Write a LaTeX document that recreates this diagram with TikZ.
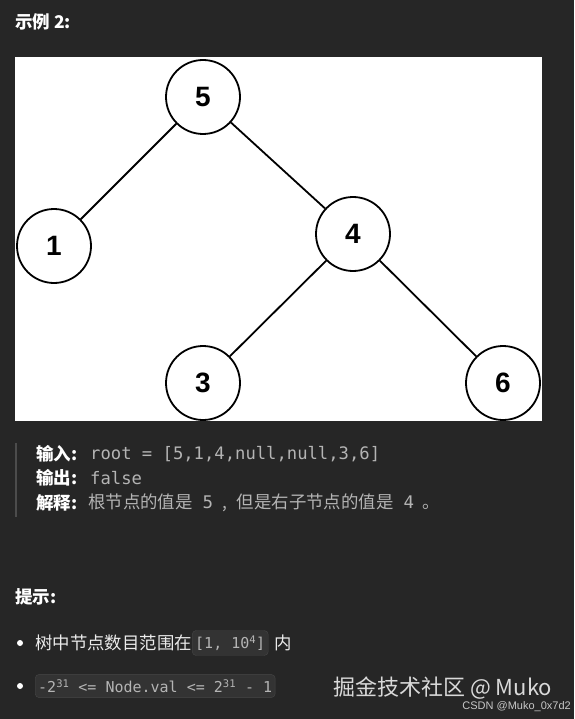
\documentclass[tikz,border=0pt]{standalone}
\usepackage{fontspec}
\setmainfont{Noto Sans CJK SC}
\setmonofont{DejaVu Sans Mono}
\newfontfamily\numfont{Liberation Sans}
\definecolor{pagebg}{HTML}{262626}
\definecolor{dimtext}{HTML}{B4B4B4}
\definecolor{codebg}{HTML}{333333}
\definecolor{codeline}{HTML}{464646}
\definecolor{barline}{HTML}{4C4C4C}

\begin{document}
\begin{tikzpicture}[x=1pt,y=-1pt,nd/.style={circle,draw=black,line width=1.8pt,fill=white,minimum size=74pt,inner sep=0pt,font=\numfont\bfseries\fontsize{28}{28}\selectfont},e/.style={draw=black,line width=1.8pt},hd/.style={anchor=west,inner sep=0pt,text=white,font=\bfseries\fontsize{17.5}{20}\selectfont},txt/.style={anchor=west,inner sep=0pt,font=\fontsize{17.4}{20}\selectfont},code/.style={anchor=west,inner sep=0pt,text=dimtext,font=\ttfamily\fontsize{17.2}{20}\selectfont},cbox/.style={anchor=west,fill=codebg,draw=codeline,rounded corners=4pt,inner xsep=3pt,inner ysep=5pt,text=dimtext,font=\ttfamily\fontsize{15}{18}\selectfont}]
\useasboundingbox[fill=pagebg] (0,0) rectangle (574,719);
\node[hd] (title) at (15,22) {示例 2:};
\fill[white] (15,57) rectangle (542,421);
% tree
\node[nd] (n5) at (203,97) {5};
\node[nd] (n1) at (54,246) {1};
\node[nd] (n4) at (353,234) {4};
\node[nd] (n3) at (203,383) {3};
\node[nd] (n6) at (503,383) {6};
\draw[e] (n5)--(n1); \draw[e] (n5)--(n4);
\draw[e] (n4)--(n3); \draw[e] (n4)--(n6);
% example block
\draw[barline,line width=2pt] (16,443)--(16,517);
\node[hd] (inlbl) at (36,454) {输入:};
\node[code] (incode) at (90,454) {root = [5,1,4,null,null,3,6]};
\node[hd] (outlbl) at (36,478) {输出:};
\node[code] (outcode) at (90,478) {false};
\node[hd] (exlbl) at (36,503) {解释:};
\node[txt,text=dimtext] (extxt) at (88,503) {根节点的值是\hspace{10pt}\texttt{5}\hspace{9pt},\hspace{10pt}但是右子节点的值是\hspace{10pt}\texttt{4}\hspace{9pt}。};
% hints
\node[hd] (hint) at (15,597) {提示:};
\fill[white] (20,643) circle (3);
\node[txt,text=white!92!black] (tip1) at (35,643) {树中节点数目范围在};
\node[cbox] (c1) at (tip1.east) {[1, 10\textsuperscript{4}]};
\node[txt,text=white!92!black] (tip1b) at ([xshift=6pt]c1.east) {内};
\fill[white] (20,686) circle (3);
\node[cbox] (c2) at (35,686) {-2\textsuperscript{31} <= Node.val <= 2\textsuperscript{31} - 1};
\node[txt,text=white!85!black,font=\fontsize{22}{24}\selectfont] (wm) at (333,688) {掘金技术社区 @ Muko};
\node[anchor=east,inner sep=0pt,text=white!78!black,font=\numfont\fontsize{11}{13}\selectfont] (csdn) at (571,707) {CSDN @Muko\_0x7d2};
\end{tikzpicture}
\end{document}
